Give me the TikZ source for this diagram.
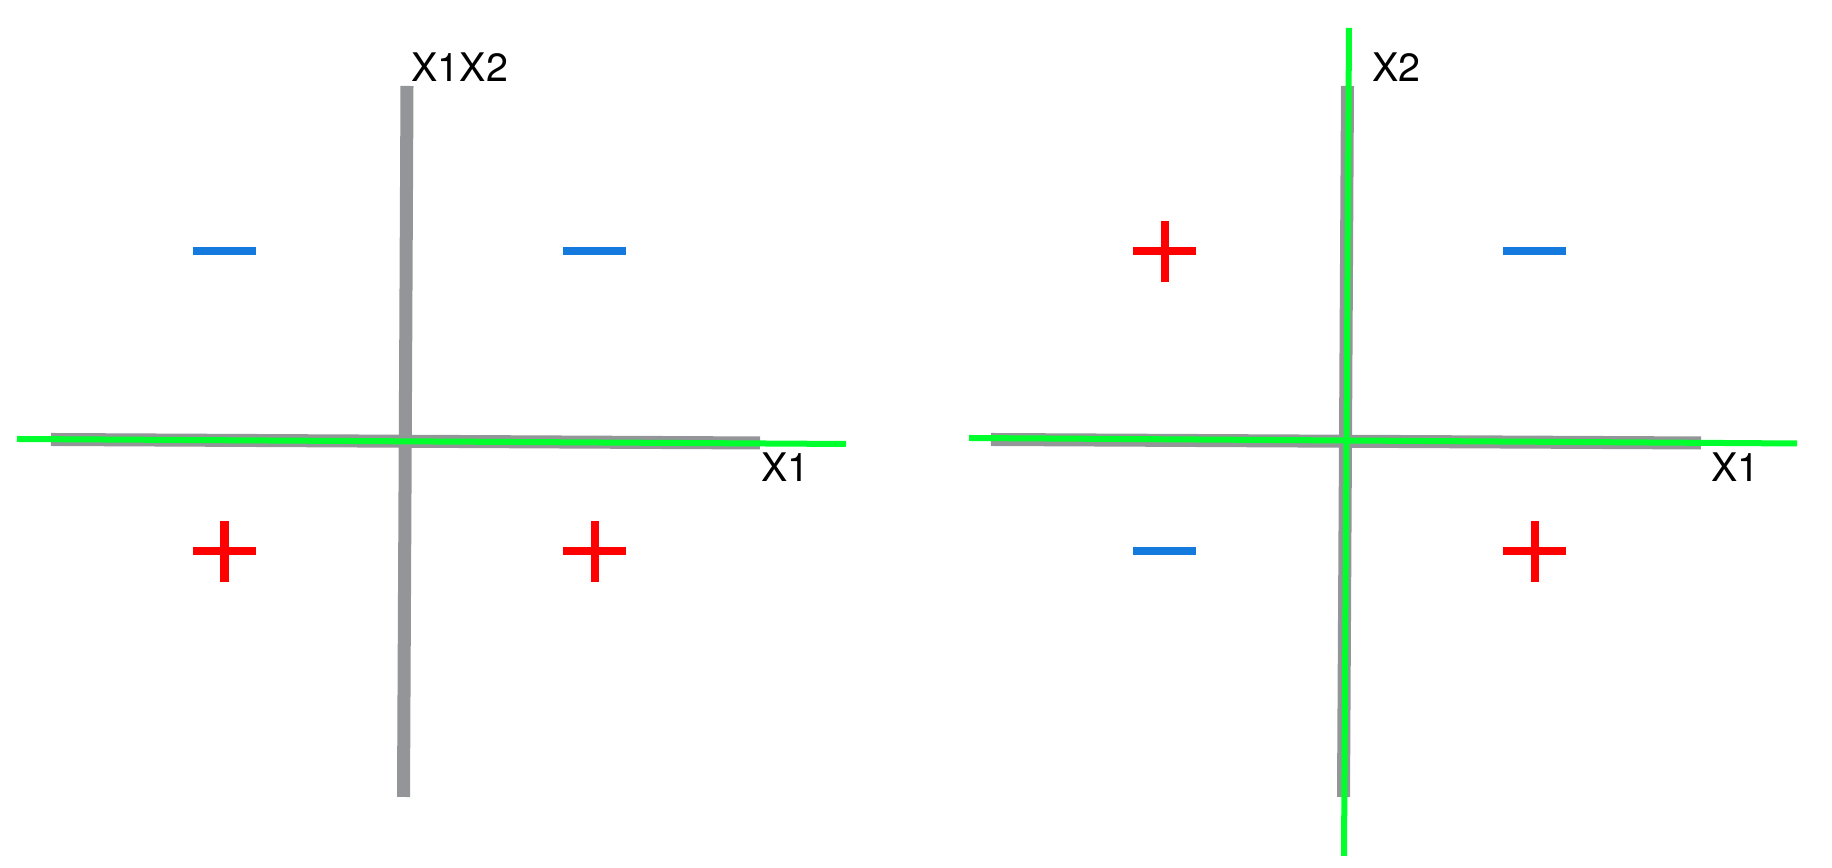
\documentclass[tikz,border=0pt]{standalone}
\usepackage{fontspec}
\setmainfont{TeX Gyre Heros}
\definecolor{axisgray}{RGB}{147,149,152}
\definecolor{sepgreen}{RGB}{0,255,45}
\definecolor{negblue}{RGB}{20,122,222}
\definecolor{posred}{RGB}{255,0,0}
\begin{document}
\begin{tikzpicture}[x=0.01cm,y=-0.01cm,
    axisline/.style={line width=0.13cm,draw=axisgray},
    sepline/.style={line width=0.06cm,draw=sepgreen},
    minusmark/.style={line width=0.08cm,draw=negblue},
    plusmark/.style={line width=0.08cm,draw=posred},
    axislabel/.style={font=\fontsize{11.2}{13}\selectfont,inner sep=0pt,anchor=base west}]
    \useasboundingbox (0,0) rectangle (1832,868);
    \coordinate (lhA) at (51,439.5);   \coordinate (lhB) at (760,443);
    \coordinate (lvA) at (407,86);     \coordinate (lvB) at (403.5,797);
    \coordinate (lgA) at (17,439);     \coordinate (lgB) at (846,444);
    \coordinate (rhA) at (991,439.5);  \coordinate (rhB) at (1701,443);
    \coordinate (rvA) at (1347.5,86);  \coordinate (rvB) at (1343.5,797);
    \coordinate (rgA) at (969,438);    \coordinate (rgB) at (1797,443.5);
    \coordinate (rgC) at (1349,28);    \coordinate (rgD) at (1344,856);
    \draw[axisline] (lhA) -- (lhB);
    \draw[axisline] (lvA) -- (lvB);
    \draw[sepline]  (lgA) -- (lgB);
    \draw[axisline] (rhA) -- (rhB);
    \draw[axisline] (rvA) -- (rvB);
    \draw[sepline]  (rgA) -- (rgB);
    \draw[sepline]  (rgC) -- (rgD);
    \node[axislabel] (lyl) at (411,82) {X1X2};
    \node[axislabel] (lxl) at (761,482) {X1};
    \node[axislabel] (ryl) at (1372,82) {X2};
    \node[axislabel] (rxl) at (1711,482) {X1};
    \foreach \cx/\cy in {224.5/251,594.5/251,1534.5/251,1164.5/551.5}
        \draw[minusmark] (\cx-31.5,\cy) -- (\cx+31.5,\cy);
    \foreach \cx/\cy in {224.5/551.5,594.5/551.5,1164.5/251.5,1534.5/551.5}{
        \draw[plusmark] (\cx-31.5,\cy) -- (\cx+31.5,\cy);
        \draw[plusmark] (\cx,\cy-30.5) -- (\cx,\cy+30.5);
    }
\end{tikzpicture}
\end{document}
